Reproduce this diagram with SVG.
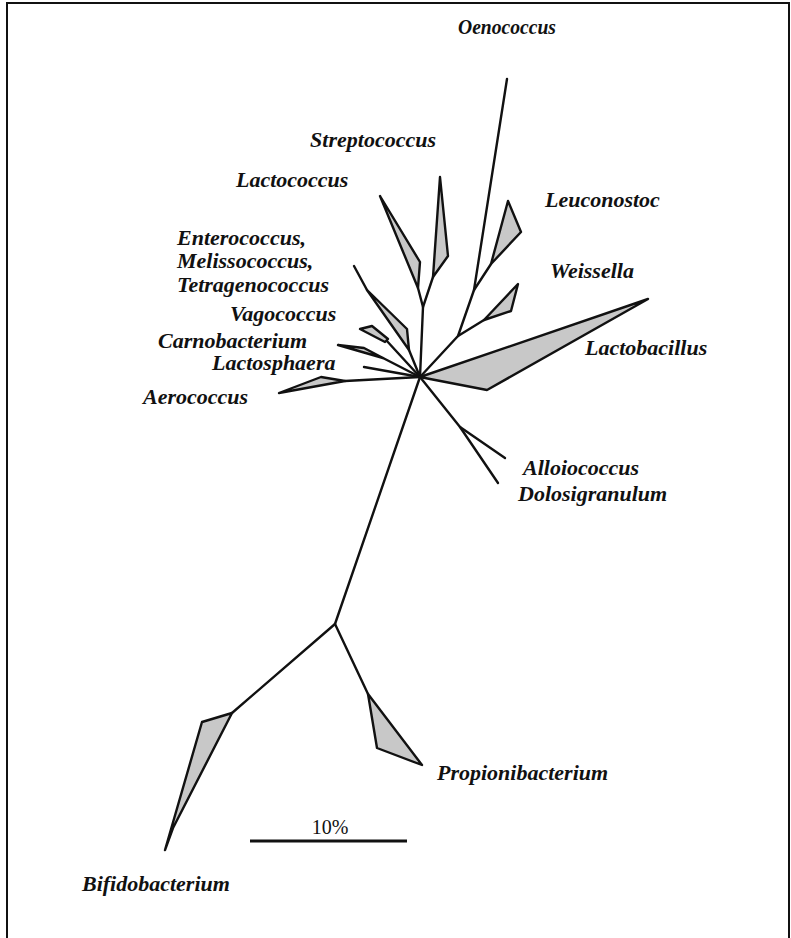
<svg xmlns="http://www.w3.org/2000/svg" width="791" height="938" viewBox="0 0 791 938">
<style>
.br{fill:none;stroke:#111;stroke-width:2.4;stroke-linejoin:round;stroke-linecap:round}
.cl{fill:#c8c8c8;stroke:#111;stroke-width:2.4;stroke-linejoin:round}
.lb{font-family:"Liberation Serif","Times New Roman",serif;font-weight:bold;font-style:italic;font-size:22px;fill:#111}
.sc{font-family:"Liberation Serif","Times New Roman",serif;font-size:20px;fill:#111}
</style>
<rect width="791" height="938" fill="#fff"/>
<path d="M7,938 V3 H789 V938" fill="none" stroke="#111" stroke-width="2"/>
<g id="connectors">
<polyline class="br" points="507,79 474,290 458,336 420,377"/>
<line class="br" x1="474" y1="290" x2="491" y2="264"/>
<line class="br" x1="458" y1="336" x2="484" y2="320"/>
<polyline class="br" points="420,377 423,307 433,277"/>
<line class="br" x1="423" y1="307" x2="418" y2="288"/>
<polyline class="br" points="354,266 367,290"/>
<line class="br" x1="409" y1="350" x2="420" y2="377"/>
<line class="br" x1="386" y1="340" x2="420" y2="377"/>
<line class="br" x1="383" y1="358" x2="420" y2="377"/>
<line class="br" x1="364" y1="367" x2="420" y2="377"/>
<line class="br" x1="345" y1="381" x2="420" y2="377"/>
<polyline class="br" points="420,377 460,427 505,458"/>
<line class="br" x1="460" y1="427" x2="498" y2="483"/>
<line class="br" x1="420" y1="377" x2="335" y2="624"/>
<line class="br" x1="335" y1="624" x2="232" y2="713"/>
<line class="br" x1="335" y1="624" x2="368" y2="694"/>
</g>
<g id="Oenococcus"><text class="lb" x="458" y="34" textLength="98" lengthAdjust="spacingAndGlyphs">Oenococcus</text></g>
<g id="Leuconostoc"><polygon class="cl" points="491,264 508,201 521,232"/><text class="lb" x="545" y="207">Leuconostoc</text></g>
<g id="Weissella"><polygon class="cl" points="484,320 518,284 511,311"/><text class="lb" x="550" y="278">Weissella</text></g>
<g id="Streptococcus"><polygon class="cl" points="433,277 440,177 448,256"/><text class="lb" x="436" y="147" text-anchor="end">Streptococcus</text></g>
<g id="Lactococcus"><polygon class="cl" points="418,288 380,196 420,262"/><text class="lb" x="236" y="187">Lactococcus</text></g>
<g id="Enterococcus"><polygon class="cl" points="367,290 407,329 409,350"/><text class="lb" x="177" y="245">Enterococcus,</text><text class="lb" x="177" y="268">Melissococcus,</text><text class="lb" x="177" y="292">Tetragenococcus</text></g>
<g id="Vagococcus"><polygon class="cl" points="360,329 372,326 388,339 385,342"/><text class="lb" x="230" y="321">Vagococcus</text></g>
<g id="Carnobacterium"><polygon class="cl" points="338,345 364,348 383,358"/><text class="lb" x="158" y="348">Carnobacterium</text></g>
<g id="Lactosphaera"><text class="lb" x="212" y="370">Lactosphaera</text></g>
<g id="Aerococcus"><polygon class="cl" points="279,393 321,377 345,381"/><text class="lb" x="143" y="404">Aerococcus</text></g>
<g id="Lactobacillus"><polygon class="cl" points="420,377 648,299 487,390 430,379"/><text class="lb" x="585" y="355">Lactobacillus</text></g>
<g id="Alloiococcus"><text class="lb" x="523" y="475">Alloiococcus</text></g>
<g id="Dolosigranulum"><text class="lb" x="518" y="501">Dolosigranulum</text></g>
<g id="Propionibacterium"><polygon class="cl" points="368,694 377,748 422,765"/><text class="lb" x="437" y="780">Propionibacterium</text></g>
<g id="Bifidobacterium"><polygon class="cl" points="232,713 202,722 165,850 173,828"/><text class="lb" x="82" y="891">Bifidobacterium</text></g>
<g id="scalebar"><line x1="250" y1="841" x2="407" y2="841" stroke="#111" stroke-width="3"/><text class="sc" x="330" y="834" text-anchor="middle">10%</text></g>
</svg>
